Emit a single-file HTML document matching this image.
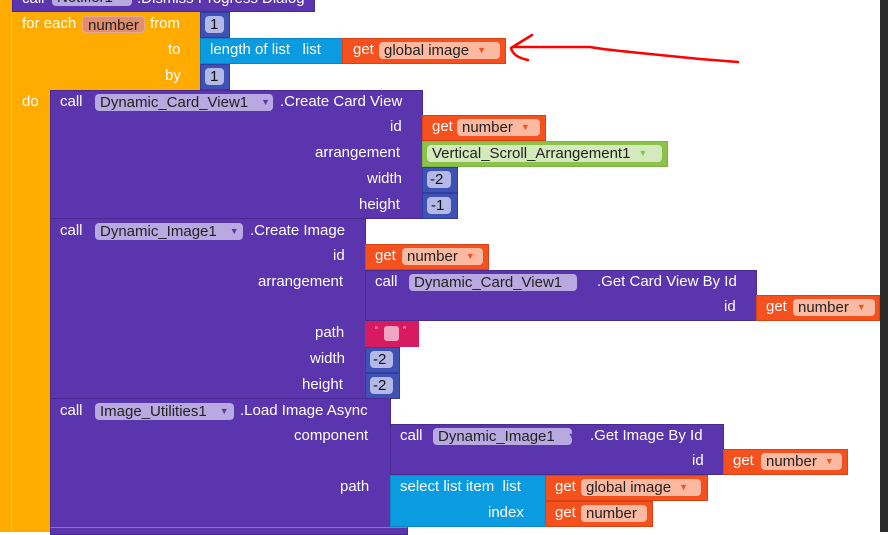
<!DOCTYPE html>
<html><head><meta charset="utf-8"><style>
*{margin:0;padding:0;box-sizing:border-box}
body{width:888px;height:532px;overflow:hidden;background:#fff;position:relative;font-family:"Liberation Sans",sans-serif;font-size:15px;color:#fff}
.b{position:absolute}
.t{position:absolute;white-space:nowrap;line-height:16px}
.p{position:absolute;white-space:nowrap;line-height:17px;height:17px;border-radius:4px;color:#222;padding-left:5px;overflow:hidden}
.pu{background:#5b35ad;border:1px solid #4a2a90}
.or{background:#f4511e;border:1px solid #d84315}
.bl{background:#3f51b5;border:1px solid #303f9f}
.lb{background:#0b9be0;border:1px solid #0a88c4}
.gr{background:#8bc34a;border:1px solid #7cb342}
.pk{background:#d81b60}
.pp{background:#b8a9e0}
.po{background:#fbb9a1}
.pb{background:#b2b9e6;color:#111}
.tri{font-size:9px;margin-left:8px;vertical-align:2px}
.tri.o{color:#f4511e}.tri.p{color:#5b35ad}.tri.g{color:#8bc34a}
</style></head><body>
<div class="b" style="left:0;top:0;width:50px;height:532px;background:#ffab00"></div>
<div class="b" style="left:11px;top:12px;width:1px;height:520px;background:#ffc94d"></div>
<div class="b" style="left:12px;top:12px;width:188px;height:78px;background:#ffab00"></div>
<div class="b pu" style="left:12px;top:-6px;width:303px;height:18px"></div>
<div class="p pp" style="left:52px;top:-11px;width:80px">Notifier1</div>
<div class="t" style="left:137px;top:-9px">.Dismiss Progress Dialog</div>
<div class="t" style="left:22px;top:-9px">call</div>
<div class="t" style="left:22px;top:16px">for each</div>
<div class="p" style="left:82px;top:16px;width:63px;background:#df8e6f;border:1px solid #e9a98d">number</div>
<div class="t" style="left:150px;top:16px">from</div>
<div class="b bl" style="left:200px;top:12px;width:30px;height:26px"></div>
<div class="p pb" style="left:205px;top:16px;width:19px">1</div>
<div class="t" style="left:168px;top:42px">to</div>
<div class="b lb" style="left:200px;top:38px;width:143px;height:26px"></div>
<div class="t" style="left:210px;top:42px">length of list&nbsp;&nbsp;&nbsp;list</div>
<div class="b or" style="left:342px;top:38px;width:164px;height:26px"></div>
<div class="t" style="left:353px;top:42px">get</div>
<div class="p po" style="left:379px;top:42px;width:121px">global image<span class="tri o">▼</span></div>
<div class="t" style="left:165px;top:68px">by</div>
<div class="b bl" style="left:200px;top:64px;width:30px;height:26px"></div>
<div class="p pb" style="left:205px;top:68px;width:19px">1</div>
<div class="t" style="left:22px;top:94px">do</div>
<div class="b pu" style="left:50px;top:90px;width:373px;height:129px"></div>
<div class="t" style="left:60px;top:94px">call</div>
<div class="p pp" style="left:95px;top:94px;width:178px">Dynamic_Card_View1<span class="tri p">▼</span></div>
<div class="t" style="left:280px;top:94px">.Create Card View</div>
<div class="t" style="left:390px;top:119px">id</div>
<div class="t" style="left:315px;top:145px">arrangement</div>
<div class="t" style="left:367px;top:171px">width</div>
<div class="t" style="left:359px;top:197px">height</div>
<div class="b or" style="left:422px;top:115px;width:124px;height:26px"></div>
<div class="t" style="left:432px;top:119px">get</div>
<div class="p po" style="left:457px;top:119px;width:83px">number<span class="tri o">▼</span></div>
<div class="b gr" style="left:422px;top:141px;width:246px;height:26px"></div>
<div class="p" style="left:427px;top:145px;width:235px;background:#d4e9bc">Vertical_Scroll_Arrangement1<span class="tri g">▼</span></div>
<div class="b bl" style="left:422px;top:167px;width:36px;height:26px"></div>
<div class="p pb" style="left:427px;top:171px;width:24px;padding-left:3px">-2</div>
<div class="b bl" style="left:422px;top:193px;width:36px;height:26px"></div>
<div class="p pb" style="left:427px;top:197px;width:24px;padding-left:4px">-1</div>
<div class="b pu" style="left:50px;top:218px;width:316px;height:181px"></div>
<div class="t" style="left:60px;top:223px">call</div>
<div class="p pp" style="left:95px;top:223px;width:148px">Dynamic_Image1<span class="tri p">▼</span></div>
<div class="t" style="left:250px;top:223px">.Create Image</div>
<div class="t" style="left:333px;top:248px">id</div>
<div class="t" style="left:258px;top:274px">arrangement</div>
<div class="t" style="left:315px;top:325px">path</div>
<div class="t" style="left:310px;top:351px">width</div>
<div class="t" style="left:302px;top:377px">height</div>
<div class="b or" style="left:365px;top:244px;width:124px;height:26px"></div>
<div class="t" style="left:375px;top:248px">get</div>
<div class="p po" style="left:402px;top:248px;width:81px">number<span class="tri o">▼</span></div>
<div class="b pu" style="left:365px;top:270px;width:392px;height:51px"></div>
<div class="t" style="left:375px;top:274px">call</div>
<div class="p pp" style="left:409px;top:274px;width:168px">Dynamic_Card_View1<span class="tri p">▼</span></div>
<div class="t" style="left:597px;top:274px">.Get Card View By Id</div>
<div class="t" style="left:724px;top:299px">id</div>
<div class="b or" style="left:756px;top:295px;width:124px;height:26px"></div>
<div class="t" style="left:766px;top:299px">get</div>
<div class="p po" style="left:793px;top:299px;width:82px">number<span class="tri o">▼</span></div>
<div class="b pk" style="left:365px;top:321px;width:54px;height:26px"></div>
<div class="t" style="left:375px;top:322px;font-size:9px">“</div>
<div class="b" style="left:384px;top:326px;width:15px;height:15px;background:#f0a6c2;border-radius:3px"></div>
<div class="t" style="left:403px;top:322px;font-size:9px">”</div>
<div class="b bl" style="left:365px;top:347px;width:35px;height:26px"></div>
<div class="p pb" style="left:370px;top:351px;width:23px;padding-left:3px">-2</div>
<div class="b bl" style="left:365px;top:373px;width:35px;height:26px"></div>
<div class="p pb" style="left:370px;top:377px;width:23px;padding-left:3px">-2</div>
<div class="b pu" style="left:50px;top:398px;width:341px;height:130px"></div>
<div class="t" style="left:60px;top:403px">call</div>
<div class="p pp" style="left:95px;top:403px;width:139px">Image_Utilities1<span class="tri p">▼</span></div>
<div class="t" style="left:240px;top:403px">.Load Image Async</div>
<div class="t" style="left:294px;top:428px">component</div>
<div class="t" style="left:340px;top:479px">path</div>
<div class="b pu" style="left:390px;top:424px;width:334px;height:51px"></div>
<div class="t" style="left:400px;top:428px">call</div>
<div class="p pp" style="left:433px;top:428px;width:139px">Dynamic_Image1<span class="tri p">▼</span></div>
<div class="t" style="left:590px;top:428px">.Get Image By Id</div>
<div class="t" style="left:692px;top:453px">id</div>
<div class="b or" style="left:723px;top:449px;width:125px;height:26px"></div>
<div class="t" style="left:733px;top:453px">get</div>
<div class="p po" style="left:761px;top:453px;width:81px">number<span class="tri o">▼</span></div>
<div class="b lb" style="left:390px;top:475px;width:156px;height:52px"></div>
<div class="t" style="left:400px;top:479px">select list item&nbsp;&nbsp;list</div>
<div class="t" style="left:488px;top:505px">index</div>
<div class="b or" style="left:545px;top:475px;width:163px;height:26px"></div>
<div class="t" style="left:555px;top:479px">get</div>
<div class="p po" style="left:581px;top:479px;width:120px">global image<span class="tri o">▼</span></div>
<div class="b or" style="left:545px;top:501px;width:108px;height:26px"></div>
<div class="t" style="left:555px;top:505px">get</div>
<div class="p po" style="left:581px;top:505px;width:66px">number<span class="tri o">▼</span></div>
<div class="b pu" style="left:50px;top:527px;width:358px;height:8px;border-top:1px solid #8a6fd0"></div>
<div class="b" style="left:880px;top:0;width:8px;height:532px;background:#2b2b2b"></div>
<svg class="b" style="left:0;top:0" width="888" height="532"><path d="M511 48 L532 35 M511 48 Q513 57 528 60 M513 47 L590 47 Q600 49 640 53 L700 59 L738 62" fill="none" stroke="#f00" stroke-width="2.5" stroke-linecap="round" stroke-linejoin="round"/></svg>
</body></html>
